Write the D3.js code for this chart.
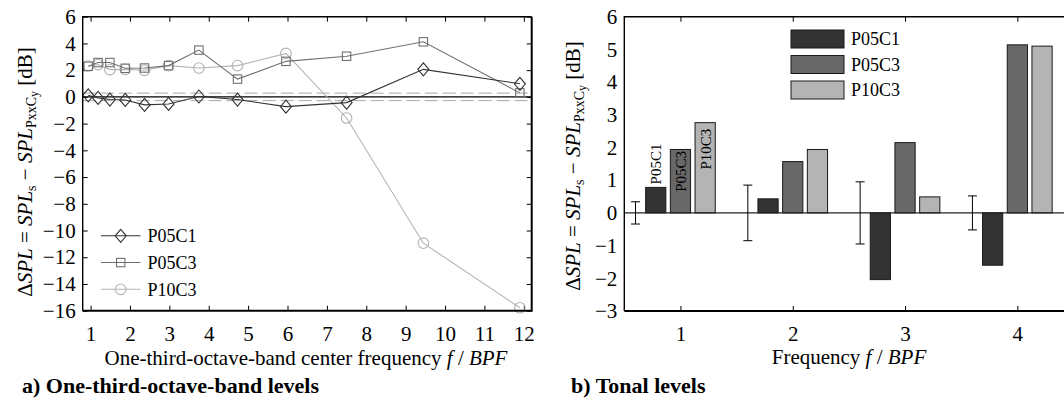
<!DOCTYPE html>
<html>
<head>
<meta charset="utf-8">
<script src="https://cdn.jsdelivr.net/npm/d3@7"></script>
<style>
  html, body { margin: 0; padding: 0; background: #fff; }
  svg { display: block; }
  svg text { font-family: "Liberation Serif", "Times New Roman", serif; fill: #000; }
</style>
</head>
<body>
<svg id="chart" width="1064" height="400"></svg>
<script>
// One-third-octave-band levels (left panel)
const bandFreq = [0.94, 1.19, 1.49, 1.88, 2.37, 2.98, 3.75, 4.73, 5.96, 7.5, 9.45, 11.9];
const bandP05C1 = [0.12, -0.08, -0.2, -0.23, -0.6, -0.53, 0.03, -0.2, -0.73, -0.43, 2.06, 0.98];
const bandP05C3 = [2.29, 2.57, 2.57, 2.14, 2.16, 2.34, 3.5, 1.33, 2.66, 3.04, 4.12, 0.3];
const bandP10C3 = [2.31, 2.42, 2.04, 2.06, 1.99, 2.34, 2.16, 2.34, 3.25, -1.58, -10.95, -15.78];
const bandTolerance = 0.28;
const bandTicksX = [1, 2, 3, 4, 5, 6, 7, 8, 9, 10, 11, 12];
const bandTicksY = [-16, -14, -12, -10, -8, -6, -4, -2, 0, 2, 4, 6];

// Tonal levels (right panel)
const tonalFreq = [1, 2, 3, 4];
const tonalP05C1 = [0.78, 0.43, -2.04, -1.6];
const tonalP05C3 = [1.94, 1.57, 2.15, 5.14];
const tonalP10C3 = [2.76, 1.94, 0.49, 5.1];
const tonalUncertainty = [0.34, 0.85, 0.95, 0.52];
const tonalTicksY = [-3, -2, -1, 0, 1, 2, 3, 4, 5, 6];

const seriesNames = ["P05C1", "P05C3", "P10C3"];

const SERIF = "'Liberation Serif', 'Times New Roman', serif";
const FONT = 21;
const svg = d3.select("#chart").attr("font-family", SERIF);

function styleAxis(g, size) {
  g.attr("font-family", SERIF).attr("font-size", size);
  g.select(".domain").remove();
  g.selectAll(".tick line").attr("stroke", "#000").attr("stroke-width", 1);
  g.selectAll(".tick text").attr("fill", "#000").attr("font-family", SERIF).attr("font-size", size);
}

// ---------- left panel ----------
const xL = d3.scaleLinear().domain([0.8, 12.2]).range([82.7, 531.7]);
const yL = d3.scaleLinear().domain([-16, 6]).range([310.7, 16.7]);
const left = svg.append("g");

left.append("g").attr("transform", `translate(0,${yL(-16)})`)
  .call(d3.axisBottom(xL).tickValues(bandTicksX).tickFormat(d3.format("d"))
    .tickSizeInner(-5).tickSizeOuter(0).tickPadding(15))
  .call(g => styleAxis(g, FONT));
left.append("g").attr("transform", `translate(0,${yL(6)})`)
  .call(d3.axisTop(xL).tickValues(bandTicksX).tickFormat("")
    .tickSizeInner(-5).tickSizeOuter(0))
  .call(g => styleAxis(g, FONT));
left.append("g").attr("transform", `translate(${xL(0.8)},0)`)
  .call(d3.axisLeft(yL).tickValues(bandTicksY).tickFormat(d3.format("d"))
    .tickSizeInner(-5).tickSizeOuter(0).tickPadding(7))
  .call(g => styleAxis(g, FONT));
left.append("g").attr("transform", `translate(${xL(12.2)},0)`)
  .call(d3.axisRight(yL).tickValues(bandTicksY).tickFormat("")
    .tickSizeInner(-5).tickSizeOuter(0))
  .call(g => styleAxis(g, FONT));

// tolerance band and zero line
[bandTolerance, -bandTolerance].forEach(v => {
  left.append("line")
    .attr("x1", xL(0.8)).attr("x2", xL(12.2))
    .attr("y1", yL(v)).attr("y2", yL(v))
    .attr("stroke", "#a8a8a8").attr("stroke-width", 1).attr("stroke-dasharray", "13,5");
});
left.append("line")
  .attr("x1", xL(0.8)).attr("x2", xL(12.2))
  .attr("y1", yL(0)).attr("y2", yL(0))
  .attr("stroke", "#000").attr("stroke-width", 1.3);

const lineSeries = [
  { name: seriesNames[0], values: bandP05C1, color: "#333333", marker: "diamond" },
  { name: seriesNames[1], values: bandP05C3, color: "#707070", marker: "square" },
  { name: seriesNames[2], values: bandP10C3, color: "#b3b3b3", marker: "circle" }
];

function drawMarker(g, type, x, y, color) {
  if (type === "diamond") {
    g.append("path").attr("d", `M${x},${y - 6.5}L${x + 5.5},${y}L${x},${y + 6.5}L${x - 5.5},${y}Z`)
      .attr("fill", "none").attr("stroke", color).attr("stroke-width", 1.1);
  } else if (type === "square") {
    g.append("rect").attr("x", x - 4.2).attr("y", y - 4.2).attr("width", 8.4).attr("height", 8.4)
      .attr("fill", "none").attr("stroke", color).attr("stroke-width", 1.1);
  } else {
    g.append("circle").attr("cx", x).attr("cy", y).attr("r", 5.3)
      .attr("fill", "none").attr("stroke", color).attr("stroke-width", 1.1);
  }
}

const line = d3.line().x(d => xL(d[0])).y(d => yL(d[1]));
lineSeries.slice().reverse().forEach(s => {
  const pts = bandFreq.map((f, i) => [f, s.values[i]]);
  const g = left.append("g");
  g.append("path").attr("d", line(pts)).attr("fill", "none")
    .attr("stroke", s.color).attr("stroke-width", 1.1);
  pts.forEach(p => drawMarker(g, s.marker, xL(p[0]), yL(p[1]), s.color));
});

// frame: thin top/left, heavier right/bottom
left.append("path")
  .attr("d", `M${xL(0.8)},${yL(-16)}V${yL(6)}H${xL(12.2)}`)
  .attr("fill", "none").attr("stroke", "#000").attr("stroke-width", 1.4);
left.append("path")
  .attr("d", `M${xL(0.8)},${yL(-16)}H${xL(12.2)}V${yL(6)}`)
  .attr("fill", "none").attr("stroke", "#000").attr("stroke-width", 2);

// legend
const legL = left.append("g");
lineSeries.forEach((s, i) => {
  const y = 235.8 + i * 26.75;
  legL.append("line").attr("x1", 100.9).attr("x2", 140.5).attr("y1", y).attr("y2", y)
    .attr("stroke", s.color).attr("stroke-width", 1.1);
  drawMarker(legL, s.marker, 120.7, y, s.color);
  legL.append("text").attr("x", 147.4).attr("y", y + 6.3).attr("font-size", 18).text(s.name);
});

// y-axis title with subscripts
function yTitle(g, x, y) {
  const t = g.append("text").attr("transform", `translate(${x},${y}) rotate(-90)`)
    .attr("text-anchor", "middle").attr("font-size", FONT);
  t.append("tspan").text("Δ");
  t.append("tspan").attr("font-style", "italic").text("SPL");
  t.append("tspan").text(" = ");
  t.append("tspan").attr("font-style", "italic").text("SPL");
  t.append("tspan").attr("font-size", 14).attr("dy", 4).text("s");
  t.append("tspan").attr("dy", -4).text(" − ");
  t.append("tspan").attr("font-style", "italic").text("SPL");
  t.append("tspan").attr("font-size", 14).attr("dy", 4).text("PxxC");
  t.append("tspan").attr("font-size", 12).attr("dy", 2).text("y");
  t.append("tspan").attr("dy", -6).text(" [dB]");
}
yTitle(left, 32, 172);

function xTitle(g, x, y, main) {
  const t = g.append("text").attr("x", x).attr("y", y).attr("text-anchor", "middle").attr("font-size", FONT);
  t.append("tspan").text(main + " ");
  t.append("tspan").attr("font-style", "italic").text("f");
  t.append("tspan").text(" / ");
  t.append("tspan").attr("font-style", "italic").text("BPF");
}
xTitle(left, 306, 365, "One-third-octave-band center frequency");

left.append("text").attr("x", 22).attr("y", 393).attr("font-size", 22)
  .attr("font-weight", "bold").text("a) One-third-octave-band levels");

// ---------- right panel ----------
const xR = d3.scaleLinear().domain([0.5, 4.5]).range([624.3, 1073.5]);
const yR = d3.scaleLinear().domain([-3, 6]).range([311, 16.7]);
const right = svg.append("g");

right.append("g").attr("transform", `translate(0,${yR(-3)})`)
  .call(d3.axisBottom(xR).tickValues(tonalFreq).tickFormat(d3.format("d"))
    .tickSizeInner(-5).tickSizeOuter(0).tickPadding(15))
  .call(g => styleAxis(g, FONT));
right.append("g").attr("transform", `translate(0,${yR(6)})`)
  .call(d3.axisTop(xR).tickValues(tonalFreq).tickFormat("")
    .tickSizeInner(-5).tickSizeOuter(0))
  .call(g => styleAxis(g, FONT));
right.append("g").attr("transform", `translate(${xR(0.5)},0)`)
  .call(d3.axisLeft(yR).tickValues(tonalTicksY).tickFormat(d3.format("d"))
    .tickSizeInner(0).tickSizeOuter(0).tickPadding(7))
  .call(g => styleAxis(g, FONT));

const barSeries = [
  { name: seriesNames[0], values: tonalP05C1, fill: "#333333", offset: -0.22 },
  { name: seriesNames[1], values: tonalP05C3, fill: "#686868", offset: 0 },
  { name: seriesNames[2], values: tonalP10C3, fill: "#b4b4b4", offset: 0.22 }
];
const barW = 0.18;

barSeries.forEach(s => {
  right.selectAll(null).data(tonalFreq).enter().append("rect")
    .attr("x", (f) => xR(f + s.offset - barW / 2))
    .attr("width", xR(barW) - xR(0))
    .attr("y", (f, i) => yR(Math.max(0, s.values[i])))
    .attr("height", (f, i) => Math.abs(yR(s.values[i]) - yR(0)))
    .attr("fill", s.fill).attr("stroke", "#1a1a1a").attr("stroke-width", 1);
});

// zero baseline
right.append("line").attr("x1", xR(0.5)).attr("x2", xR(4.5))
  .attr("y1", yR(0)).attr("y2", yR(0)).attr("stroke", "#222").attr("stroke-width", 1.2);

// measurement uncertainty
tonalFreq.forEach((f, i) => {
  const x = xR(f - 0.4);
  const e = tonalUncertainty[i];
  const g = right.append("g").attr("stroke", "#000").attr("stroke-width", 1);
  g.append("line").attr("x1", x).attr("x2", x).attr("y1", yR(e)).attr("y2", yR(-e));
  g.append("line").attr("x1", x - 4.5).attr("x2", x + 4.5).attr("y1", yR(e)).attr("y2", yR(e));
  g.append("line").attr("x1", x - 4.5).attr("x2", x + 4.5).attr("y1", yR(-e)).attr("y2", yR(-e));
});

// series names written on the first group of bars
const labelShift = [-3, 1.5, 6];
barSeries.forEach((s, j) => {
  const cx = xR(tonalFreq[0] + s.offset);
  const top = yR(s.values[0]);
  const inside = j > 0;
  right.append("text")
    .attr("transform", `translate(${cx + 5.5},${top + labelShift[j]}) rotate(-90)`)
    .attr("text-anchor", inside ? "end" : "start")
    .attr("font-size", 15).text(s.name);
});

// frame (top, left, bottom; the right side lies beyond the page)
right.append("path")
  .attr("d", `M${xR(4.5)},${yR(6)}H${xR(0.5)}V${yR(-3)}`)
  .attr("fill", "none").attr("stroke", "#000").attr("stroke-width", 1.4);
right.append("path")
  .attr("d", `M${xR(0.5)},${yR(-3)}H${xR(4.5)}`)
  .attr("fill", "none").attr("stroke", "#000").attr("stroke-width", 2);

// legend
barSeries.forEach((s, i) => {
  const y = 30 + i * 25.5;
  right.append("rect").attr("x", 791).attr("y", y).attr("width", 53).attr("height", 18)
    .attr("fill", s.fill).attr("stroke", "#1a1a1a").attr("stroke-width", 1);
  right.append("text").attr("x", 851).attr("y", y + 15).attr("font-size", 18).text(s.name);
});

yTitle(right, 580, 166);
xTitle(right, 849, 364, "Frequency");
right.append("text").attr("x", 571).attr("y", 393).attr("font-size", 22)
  .attr("font-weight", "bold").text("b) Tonal levels");
</script>
</body>
</html>
